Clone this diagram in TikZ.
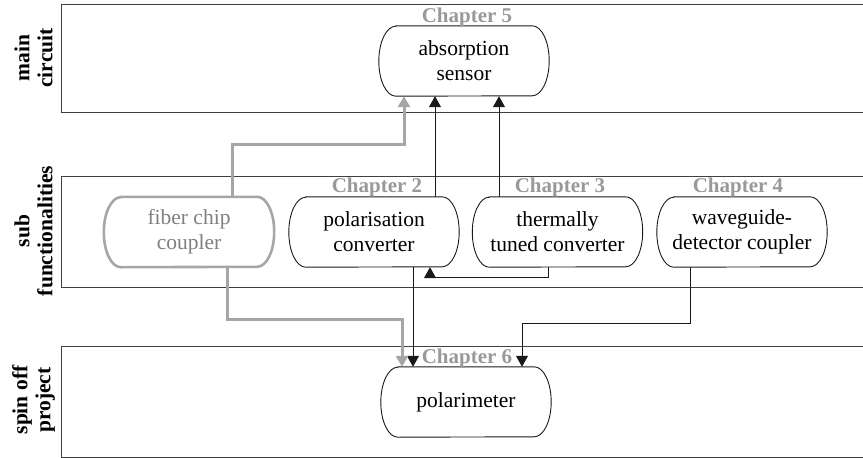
\documentclass[tikz,border=0pt]{standalone}
\usepackage{fontspec}
\setmainfont{Liberation Serif}
\usetikzlibrary{arrows.meta,calc}
\definecolor{lgray}{HTML}{A6A6A6}
\definecolor{cgray}{HTML}{999999}
\definecolor{tgray}{HTML}{7F7F7F}
\definecolor{bandline}{HTML}{404040}
\newcommand\capsoutline[2]{%
  \draw[#2] ([xshift=17pt]#1.north west) -- ([xshift=-17pt]#1.north east)
    arc[start angle=90,end angle=-90,x radius=17pt,y radius=35pt]
    -- ([xshift=17pt]#1.south west)
    arc[start angle=270,end angle=90,x radius=17pt,y radius=35pt] -- cycle;}
\tikzset{
  box/.style={minimum width=170pt,minimum height=70pt,inner sep=0pt,align=center,
    font=\fontsize{21.5}{25}\selectfont},
  chap/.style={anchor=base,text=cgray,font=\fontsize{21}{24}\selectfont\bfseries},
  side/.style={rotate=90,align=center,font=\fontsize{21.5}{23}\selectfont\bfseries},
  band/.style={draw=bandline,line width=1pt},
  blk/.style={draw=black!90,line width=1pt,-{Triangle[length=11pt,width=12pt]}},
  gry/.style={draw=lgray,line width=3pt,-{Triangle[length=11pt,width=12pt]}},
}
\begin{document}
\begin{tikzpicture}[x=1pt,y=1pt]
\useasboundingbox (0,-458) rectangle (863,0);
% bands
\draw[band] (863,-4) -- (61,-4) -- (61,-112) -- (863,-112);
\draw[band] (863,-176) -- (61,-176) -- (61,-287) -- (863,-287);
\draw[band] (863,-346) -- (61,-346) -- (61,-457) -- (863,-457);
% side labels
\node[side] (l1) at (33.5,-58) {main\\circuit};
\node[side] (l2) at (33.5,-231) {sub\\functionalities};
\node[side] (l3) at (33.5,-400) {spin off\\project};
% nodes
\node[box] (abs) at (464,-61) {absorption\\sensor};
\node[box,text=tgray] (fib) at (189,-232) {fiber chip\\coupler};
\node[box] (pol) at (374,-232) {polarisation\\converter};
\node[box] (thm) at (557.5,-232) {thermally\\tuned converter};
\node[box] (wgd) at (742,-232) {waveguide-\\detector coupler};
\node[box] (pmt) at (466,-402) {polarimeter};
\capsoutline{abs}{draw=black!90,line width=0.9pt}
\capsoutline{fib}{draw=lgray,line width=2.6pt}
\capsoutline{pol}{draw=black!90,line width=0.9pt}
\capsoutline{thm}{draw=black!90,line width=0.9pt}
\capsoutline{wgd}{draw=black!90,line width=0.9pt}
\capsoutline{pmt}{draw=black!90,line width=0.9pt}
% chapter labels
\node[chap] (c5) at (467,-22) {Chapter 5};
\node[chap] (c2) at (377,-192) {Chapter 2};
\node[chap] (c3) at (560,-192) {Chapter 3};
\node[chap] (c4) at (738,-192) {Chapter 4};
\node[chap] (c6) at (467,-363) {Chapter 6};
% connectors
\coordinate (g1) at (404,-144);
\draw[gry] ([xshift=43pt]fib.north) |- (g1) -- (g1 |- abs.south);
\draw[blk] ([xshift=61pt]pol.north) -- ([xshift=-29pt]abs.south);
\draw[blk] ([xshift=-58.5pt]thm.north) -- ([xshift=35pt]abs.south);
\coordinate (b1) at (430,-277);
\draw[blk] ([xshift=-9.5pt]thm.south) |- (b1) -- (b1 |- pol.south);
\draw[blk] ([xshift=39pt]pol.south) -- ([xshift=-53pt]pmt.north);
\coordinate (g2) at (402,-319);
\draw[gry] ([xshift=38pt]fib.south) |- (g2) -- (g2 |- pmt.north);
\coordinate (b2) at (522,-323);
\draw[blk] ([xshift=-52pt]wgd.south) |- (b2) -- (b2 |- pmt.north);
\end{tikzpicture}
\end{document}
